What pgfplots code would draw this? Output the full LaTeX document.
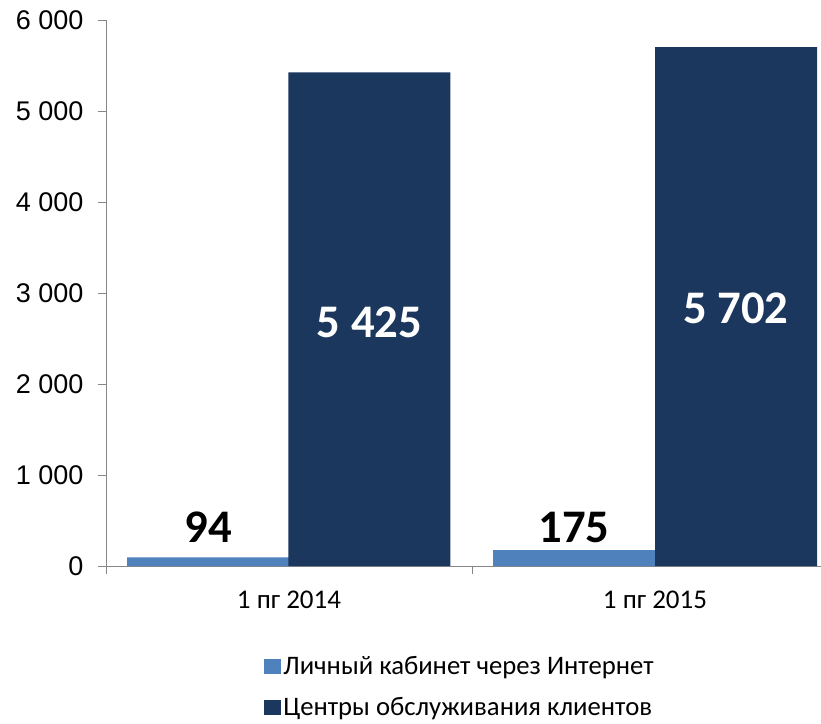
\documentclass[border=0pt]{standalone}
\usepackage{pgfplots}
\pgfplotsset{compat=1.18}
\usepackage{fontspec}
\setmainfont{Carlito}
\newfontfamily\arialf{Liberation Sans}
\definecolor{lightbar}{HTML}{4F81BD}
\definecolor{darkbar}{HTML}{1B375E}
\definecolor{axgray}{HTML}{868686}
\begin{document}
\begin{tikzpicture}[x=1pt,y=1pt]
\begin{axis}[
  at={(106pt,157pt)}, anchor=south west,
  width=732pt, height=546pt, scale only axis,
  xmin=0, xmax=2, ymin=0, ymax=6000,
  axis x line=bottom, axis y line=left,
  axis line style={draw=axgray, line width=1pt, -},
  tick style={draw=axgray, line width=1pt},
  tick align=outside, major tick length=8pt,
  ytick={0,1000,2000,3000,4000,5000,6000},
  yticklabel style={font=\arialf\fontsize{27}{31}\selectfont, xshift=-11pt},
  /pgf/number format/assume math mode=true,
  /pgf/number format/1000 sep={\ },
  xtick={0,1,2}, xticklabels={},
  extra x ticks={0.5,1.5},
  extra x tick labels={1 пг 2014, 1 пг 2015},
  extra x tick style={major tick length=0pt, tick label style={font=\fontsize{27}{31}\selectfont, yshift=-21pt}},
  legend style={at={(0.4836,-0.2216)}, anchor=center, draw=none, fill=none,
    font=\fontsize{26.7}{31}\selectfont, row sep=17pt, cells={anchor=west},
    /tikz/every odd column/.append style={inner xsep=3pt}},
  legend image code/.code={\fill[#1,draw=none] (0pt,-7.5pt) rectangle (17pt,7.5pt);},
  clip=false,
]
\addplot[ybar, bar width=0.4426, bar shift=0pt, fill=lightbar, draw=none]
  coordinates {(0.2787,94) (1.2787,175)};
\addlegendentry{Личный кабинет через Интернет}
\addplot[ybar, bar width=0.4426, bar shift=0pt, fill=darkbar, draw=none]
  coordinates {(0.7199,5425) (1.7213,5702)};
\addlegendentry{Центры обслуживания клиентов}
\node[font=\fontsize{46.7}{50}\selectfont\bfseries, text=black] at (axis cs:0.2787,428) {94};
\node[font=\fontsize{46.7}{50}\selectfont\bfseries, text=black] at (axis cs:1.2787,428) {175};
\node[font=\fontsize{46.7}{50}\selectfont\bfseries, text=white] at (axis cs:0.7199,2681) {5 425};
\node[font=\fontsize{46.7}{50}\selectfont\bfseries, text=white] at (axis cs:1.7213,2835) {5 702};
\end{axis}
\pgfresetboundingbox
\path[use as bounding box] (0pt,0pt) rectangle (821pt,723pt);
\end{tikzpicture}
\end{document}
